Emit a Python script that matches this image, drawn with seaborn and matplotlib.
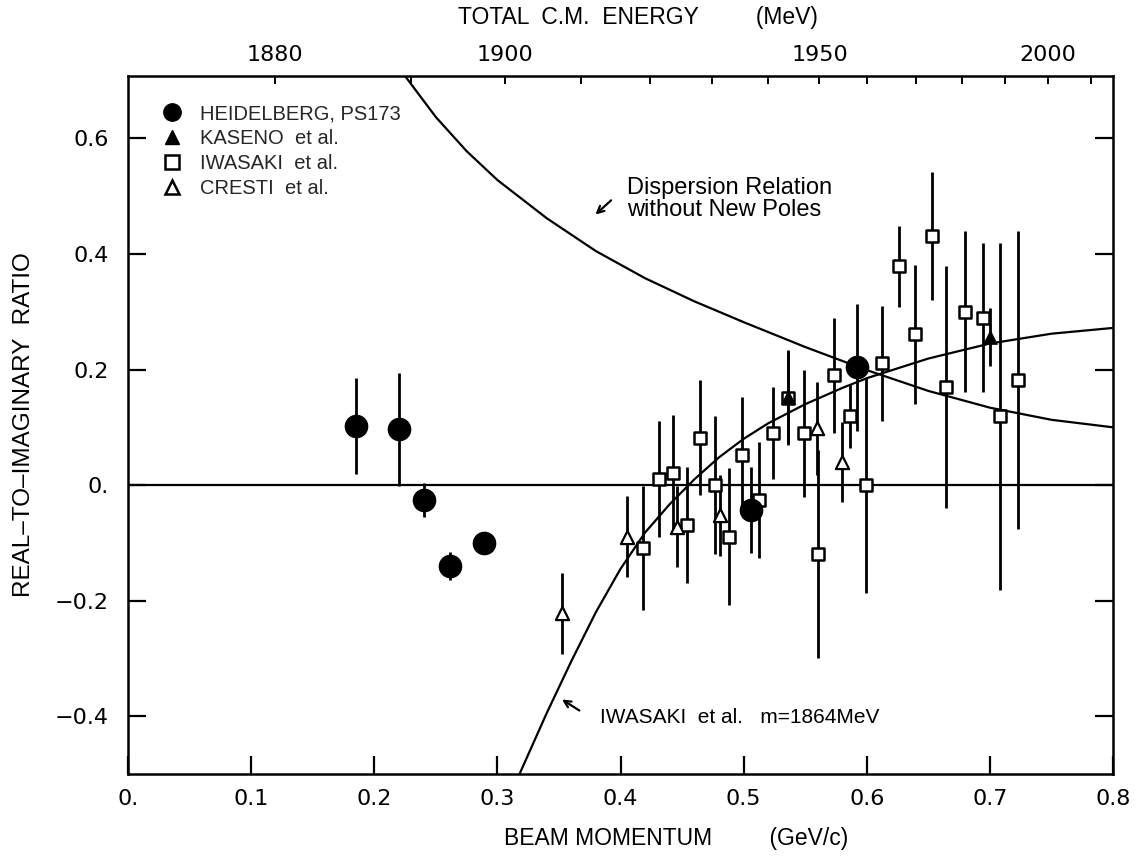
import numpy as np
import pandas as pd
import matplotlib
matplotlib.use("Agg")
import matplotlib.pyplot as plt
import seaborn as sns
from matplotlib.lines import Line2D

# ---------------- data ----------------
heid_p = [0.185, 0.2205, 0.240, 0.2614, 0.2895, 0.5063, 0.592]
heid_v = [0.1026, 0.0964, -0.026, -0.140, -0.101, -0.043, 0.2036]
heid_e = [0.083, 0.098, 0.030, 0.025, 0.0, 0.075, 0.110]

kas_p = [0.536, 0.7005]
kas_v = [0.153, 0.2566]
kas_e = [0.080, 0.050]

iwa_p = [0.4183, 0.431, 0.443, 0.454, 0.4643, 0.4765, 0.488, 0.499, 0.5125,
         0.5238, 0.536, 0.549, 0.5603, 0.5733, 0.5866, 0.5996, 0.6123, 0.626,
         0.6388, 0.6528, 0.6645, 0.6794, 0.6943, 0.7086, 0.7232]
iwa_v = [-0.1085, 0.011, 0.021, -0.069, 0.082, 0.0, -0.089, 0.052, -0.026,
         0.090, 0.150, 0.090, -0.119, 0.190, 0.120, 0.0, 0.2105, 0.379,
         0.261, 0.431, 0.170, 0.300, 0.290, 0.119, 0.182]
iwa_e = [0.107, 0.100, 0.100, 0.100, 0.100, 0.120, 0.118, 0.100, 0.100,
         0.080, 0.080, 0.110, 0.180, 0.100, 0.055, 0.186, 0.100, 0.070,
         0.120, 0.110, 0.209, 0.139, 0.129, 0.300, 0.258]

cre_p = [0.3528, 0.4056, 0.4462, 0.481, 0.5595, 0.580]
cre_v = [-0.222, -0.089, -0.072, -0.052, 0.098, 0.040]
cre_e = [0.070, 0.070, 0.070, 0.070, 0.080, 0.070]

disp_p = [0.225, 0.25, 0.275, 0.30, 0.34, 0.38, 0.42, 0.46, 0.50, 0.55,
          0.60, 0.65, 0.70, 0.75, 0.80]
disp_v = [0.708, 0.637, 0.578, 0.528, 0.462, 0.405, 0.358, 0.318, 0.282,
          0.239, 0.199, 0.163, 0.134, 0.113, 0.100]

iwfit_p = [0.318, 0.34, 0.36, 0.38, 0.40, 0.42, 0.44, 0.46, 0.48, 0.50,
           0.52, 0.55, 0.58, 0.60, 0.65, 0.70, 0.75, 0.80]
iwfit_v = [-0.50, -0.395, -0.305, -0.22, -0.145, -0.082, -0.033, 0.010,
           0.048, 0.080, 0.107, 0.140, 0.168, 0.185, 0.219, 0.245, 0.262,
           0.272]

x_ticks = [0.0, 0.1, 0.2, 0.3, 0.4, 0.5, 0.6, 0.7, 0.8]
x_ticklabels = ["0.", "0.1", "0.2", "0.3", "0.4", "0.5", "0.6", "0.7", "0.8"]
y_ticks = [-0.4, -0.2, 0.0, 0.2, 0.4, 0.6]
y_ticklabels = ["\u22120.4", "\u22120.2", "0.", "0.2", "0.4", "0.6"]

top_energy = [1880, 1890, 1900, 1910, 1920, 1930, 1940, 1950, 1960, 1970,
              1980, 1990, 2000, 2010]
top_pos = [0.119, 0.230, 0.306, 0.368, 0.424, 0.4745, 0.520, 0.5616, 0.600,
           0.640, 0.6776, 0.7123, 0.747, 0.782]
top_labelled = [1880, 1900, 1950, 2000]

legend_labels = ["HEIDELBERG, PS173", "KASENO  et al.", "IWASAKI  et al.",
                 "CRESTI  et al."]

# ---------------- style ----------------
sns.set_theme(style="ticks")
FONT = ["Liberation Sans", "DejaVu Sans"]
TICKFONT = ["DejaVu Sans"]
plt.rcParams["font.family"] = FONT
plt.rcParams["axes.linewidth"] = 1.8

fig = plt.figure(figsize=(11.36, 8.64), dpi=100)
ax = fig.add_axes([128 / 1136, 1 - 774 / 864, 985 / 1136, 698 / 864])

K = "black"
LW_ERR = 2.0

# error bars
for p, v, e in [(heid_p, heid_v, heid_e), (kas_p, kas_v, kas_e),
                (iwa_p, iwa_v, iwa_e), (cre_p, cre_v, cre_e)]:
    ax.errorbar(p, v, yerr=e, fmt="none", ecolor=K, elinewidth=LW_ERR,
                capsize=0, zorder=2)

# curves
ax.axhline(0.0, color=K, lw=1.6, zorder=1)
sns.lineplot(x=disp_p, y=disp_v, ax=ax, color=K, lw=1.6, sort=False,
             estimator=None, zorder=1)
sns.lineplot(x=iwfit_p, y=iwfit_v, ax=ax, color=K, lw=1.6, sort=False,
             estimator=None, zorder=1)

# markers
sns.scatterplot(x=heid_p, y=heid_v, ax=ax, marker="o", s=290, color=K,
                edgecolor=K, linewidth=0, zorder=4)
sns.scatterplot(x=iwa_p, y=iwa_v, ax=ax, marker="s", s=75, color="white",
                edgecolor=K, linewidth=1.8, zorder=3)
sns.scatterplot(x=kas_p, y=kas_v, ax=ax, marker="^", s=100, color=K,
                edgecolor=K, linewidth=0.5, zorder=5)
sns.scatterplot(x=cre_p, y=cre_v, ax=ax, marker="^", s=90, color="white",
                edgecolor=K, linewidth=1.6, zorder=3)

ax.set_xlim(0, 0.8)
ax.set_ylim(-0.5, 0.708)

ax.set_xticks(x_ticks)
ax.set_xticklabels(x_ticklabels, family=TICKFONT)
ax.set_yticks(y_ticks)
ax.set_yticklabels(y_ticklabels, family=TICKFONT)
ax.tick_params(axis="both", direction="in", length=13, width=1.6,
               labelsize=16, colors=K)
ax.tick_params(axis="x", pad=11)
ax.tick_params(axis="y", pad=14)
ax.tick_params(axis="y", right=True, which="both")

for s in ax.spines.values():
    s.set_visible(True)
    s.set_color(K)
    s.set_linewidth(1.8)

ax.set_xlabel("BEAM MOMENTUM         (GeV/c)", fontsize=16.5, color=K)
ax.xaxis.set_label_coords(0.556, -0.076)
ax.set_ylabel("REAL\u2013TO\u2013IMAGINARY  RATIO", fontsize=17.5,
              labelpad=14, color=K)

# top axis
top = ax.twiny()
top.set_xlim(ax.get_xlim())
top.set_xticks(top_pos)
top.set_xticklabels([str(e) if e in top_labelled else "" for e in top_energy],
                    family=TICKFONT)
top.tick_params(axis="x", direction="in", length=6, width=1.4, labelsize=16,
                pad=8, colors=K)
top.set_xlabel("TOTAL  C.M.  ENERGY         (MeV)", fontsize=16.5, color=K)
top.xaxis.set_label_coords(0.518, 1.074)
for s in top.spines.values():
    s.set_visible(False)

# annotations
ax.text(0.405, 0.495, "Dispersion Relation\nwithout New Poles", fontsize=17,
        ha="left", va="center", linespacing=1.0, color=K)
ax.annotate("", xy=(0.378, 0.465), xytext=(0.394, 0.496),
            arrowprops=dict(arrowstyle="->", color=K, lw=1.6))
ax.text(0.383, -0.403, "IWASAKI  et al.   m=1864MeV", fontsize=15,
        ha="left", va="center", color=K)
ax.annotate("", xy=(0.3506, -0.3685), xytext=(0.3685, -0.3927),
            arrowprops=dict(arrowstyle="->", color=K, lw=1.6))

# legend
handles = [
    Line2D([], [], ls="none", marker="o", ms=12.5, mfc=K, mec=K),
    Line2D([], [], ls="none", marker="^", ms=10.5, mfc=K, mec=K),
    Line2D([], [], ls="none", marker="s", ms=10, mfc="white", mec=K, mew=1.8),
    Line2D([], [], ls="none", marker="^", ms=10.5, mfc="white", mec=K,
           mew=1.8),
]
ax.legend(handles, legend_labels, loc="upper left",
          bbox_to_anchor=(0.018, 0.98), frameon=False, fontsize=14.5,
          labelspacing=0.29, handletextpad=0.8, handlelength=1.2,
          borderpad=0.2)

fig.savefig("out.png", dpi=100, facecolor="white")
